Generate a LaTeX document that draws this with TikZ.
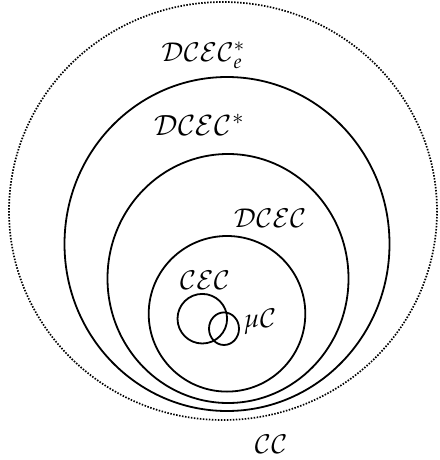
\documentclass[tikz,border=0pt]{standalone}
\usepackage{mathpazo}
\begin{document}
\begin{tikzpicture}[x=1pt,y=-1pt,
  ring/.style={draw=black,line width=1.8pt},
  dotring/.style={draw=black,line width=1.7pt,dash pattern=on 1.5pt off 1.5pt},
  lbl/.style={inner sep=0pt,font=\fontsize{26}{30}\selectfont},
  biglbl/.style={inner sep=0pt,font=\fontsize{28}{33}\selectfont}]
\useasboundingbox (0,0) rectangle (439,460);
\draw[dotring] (223,211) ellipse [x radius=214, y radius=209];
\draw[ring] (227,244) ellipse [x radius=162.5, y radius=167];
\draw[ring] (228,278.5) ellipse [x radius=120.5, y radius=124.5];
\draw[ring] (227,313.8) ellipse [x radius=78.3, y radius=77.8];
\draw[ring] (202.3,318.7) circle [radius=24.8];
\draw[ring] (224,328.7) ellipse [x radius=15, y radius=16.3];
\node[lbl,anchor=base west] (le) at (161,62) {$\mathcal{DCEC}^*_e$};
\node[biglbl] (ls) at (199,125) {$\mathcal{DCEC}^*$};
\node[lbl] (ld) at (270,218) {$\mathcal{DCEC}$};
\node[lbl] (lc) at (205,280) {$\mathcal{CEC}$};
\node[lbl] (lm) at (260,322) {$\mu\mathcal{C}$};
\node[lbl] (lcc) at (271,444) {$\mathcal{CC}$};
\end{tikzpicture}
\end{document}
